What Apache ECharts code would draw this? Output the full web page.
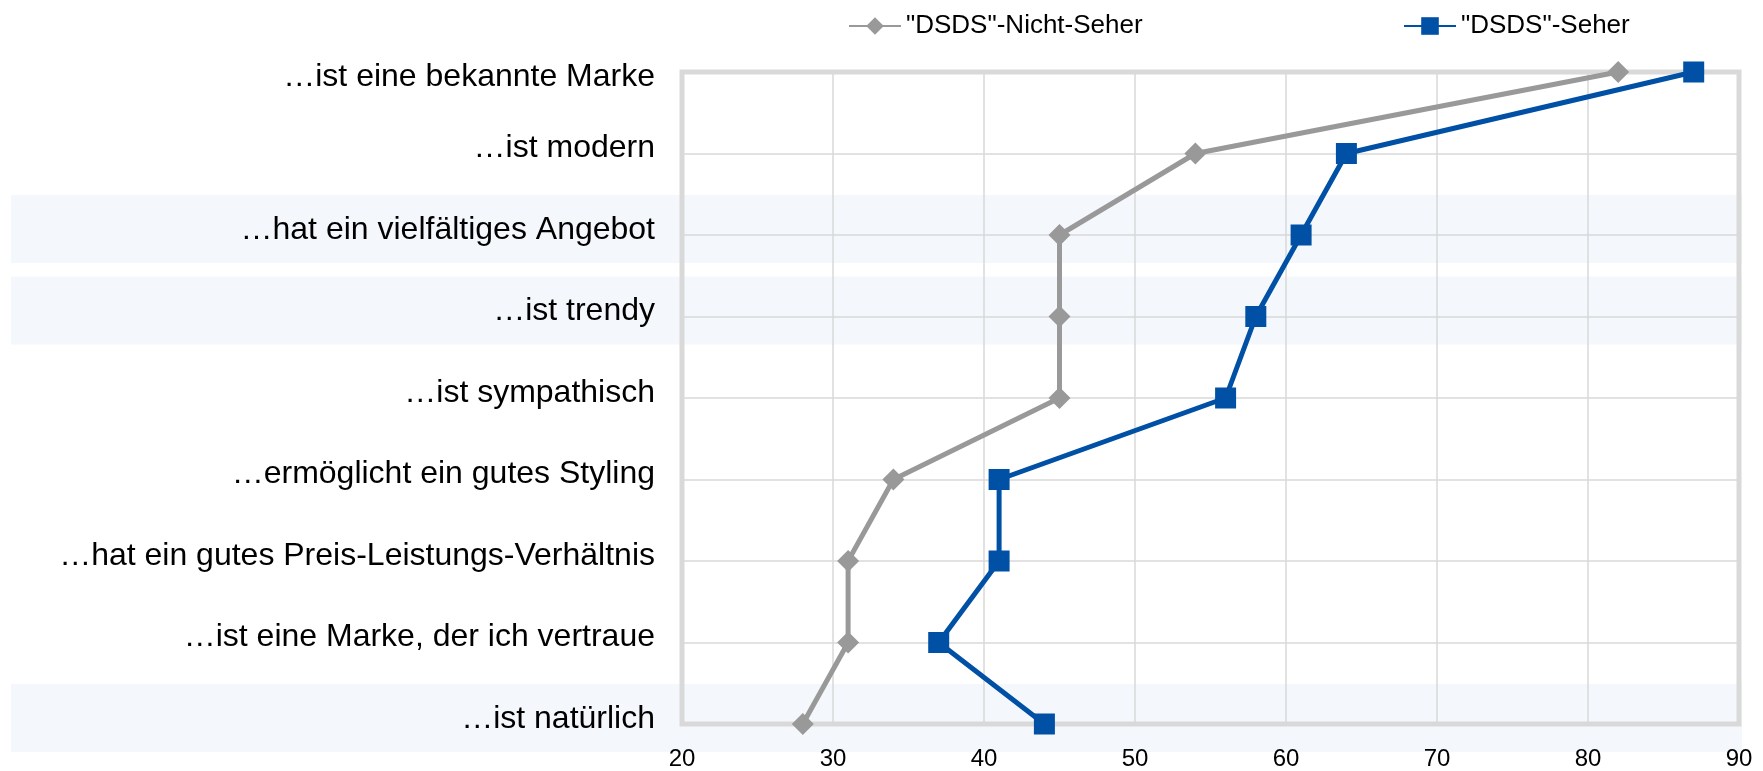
<!DOCTYPE html>
<html>
<head>
<meta charset="utf-8">
<script src="https://cdn.jsdelivr.net/npm/echarts@6/dist/echarts.min.js"></script>
<style>
    html, body {margin:0;padding:0;background:#ffffff;}
    #chart {width:1763px;height:771px;}
</style>
</head>
<body>
<div id="chart"></div>
<script>
    // Aussagen (von oben nach unten)
    var categories = [
        '…ist eine bekannte Marke',
        '…ist modern',
        '…hat ein vielfältiges Angebot',
        '…ist trendy',
        '…ist sympathisch',
        '…ermöglicht ein gutes Styling',
        '…hat ein gutes Preis-Leistungs-Verhältnis',
        '…ist eine Marke, der ich vertraue',
        '…ist natürlich'
    ];
    var nichtSeher = [82, 54, 45, 45, 45, 34, 31, 31, 28];
    var seher = [87, 64, 61, 58, 56, 41, 41, 37, 44];
    var xTicks = [20, 30, 40, 50, 60, 70, 80, 90];
    // hinterlegte Zeilen
    var highlightRows = [2, 3, 8];

    var chart = echarts.init(document.getElementById('chart'));

    var font = 'Arial, "Liberation Sans", sans-serif';

    var option = {
        animation: false,
        textStyle: {fontFamily: font},
        legend: [
            {
                data: ['"DSDS"-Nicht-Seher'],
                left: 843,
                top: 8,
                itemWidth: 52,
                itemHeight: 22,
                textStyle: {fontSize: 26, color: '#000', fontFamily: font}
            },
            {
                data: ['"DSDS"-Seher'],
                left: 1398,
                top: 8,
                itemWidth: 52,
                itemHeight: 22,
                textStyle: {fontSize: 26, color: '#000', fontFamily: font}
            }
        ],
        grid: {
            left: 682,
            right: 24,
            top: 72,
            bottom: 47,
            show: true,
            borderColor: '#d9d9d9',
            borderWidth: 5,
            backgroundColor: 'transparent'
        },
        xAxis: {
            type: 'value',
            min: xTicks[0],
            max: xTicks[xTicks.length - 1],
            interval: 10,
            axisLine: {show: false},
            axisTick: {show: false},
            axisLabel: {margin: 23, fontSize: 24, color: '#000', fontFamily: font},
            splitLine: {lineStyle: {color: '#d9d9d9', width: 1.5}}
        },
        yAxis: {
            type: 'category',
            data: categories,
            inverse: true,
            boundaryGap: false,
            axisLine: {show: false},
            axisTick: {show: false},
            axisLabel: {
                margin: 27,
                interval: 0,
                color: '#000',
                // Beschriftung knapp ueber der Linie, die oberste darunter
                formatter: function (value, idx) {
                    return idx === 0 ? '{first|' + value + '}' : '{n|' + value + '}';
                },
                rich: {
                    n: {fontSize: 32, color: '#000', fontFamily: font, padding: [0, 0, 10, 0]},
                    first: {fontSize: 32, color: '#000', fontFamily: font, padding: [10, 0, 0, 0]}
                }
            },
            splitLine: {show: true, lineStyle: {color: '#d9d9d9', width: 1.5}}
        },
        series: [
            {
                name: '"DSDS"-Nicht-Seher',
                type: 'line',
                data: nichtSeher,
                symbol: 'diamond',
                symbolSize: 22,
                lineStyle: {color: '#999999', width: 5},
                itemStyle: {color: '#999999'},
                z: 3
            },
            {
                name: '"DSDS"-Seher',
                type: 'line',
                data: seher,
                symbol: 'rect',
                symbolSize: 21,
                lineStyle: {color: '#0050a5', width: 5},
                itemStyle: {color: '#0050a5'},
                z: 4
            }
        ]
    };
    chart.setOption(option);

    // Zeilen-Hinterlegung aus den Achsenpositionen
    var rightEdge = chart.convertToPixel({xAxisIndex: 0}, xTicks[xTicks.length - 1]) + 3;
    var bands = [];
    for (var i = 0; i < highlightRows.length; i++) {
        var y = chart.convertToPixel({yAxisIndex: 0}, categories[highlightRows[i]]);
        bands.push({
            type: 'rect',
            z: -10,
            silent: true,
            shape: {x: 11, y: y - 40, width: rightEdge - 11, height: 68},
            style: {fill: '#f4f7fb'}
        });
    }
    chart.setOption({graphic: {elements: bands}});
</script>
</body>
</html>
